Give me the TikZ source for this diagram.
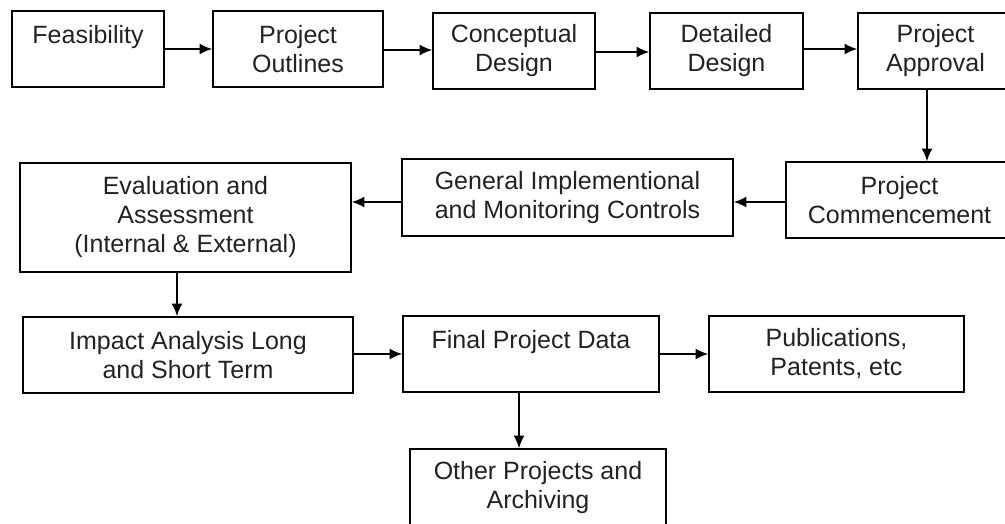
\documentclass[tikz,border=0pt]{standalone}
\usepackage{fontspec}
\setmainfont{Liberation Sans}
\usetikzlibrary{arrows.meta}
\definecolor{ink}{HTML}{222222}
\tikzset{
  stagebox/.style={draw=black, line width=1.8pt, rectangle, inner sep=0pt,
    align=center, text=ink, font=\fontsize{25}{29}\selectfont},
  flow/.style={line width=1.5pt, -{Latex[length=12.5pt,width=11pt]}}
}
\begin{document}
\begin{tikzpicture}[x=1pt,y=-1pt]
\clip (0,0) rectangle (1005,523);

% top row
\node[stagebox, minimum width=152pt, minimum height=76pt] (feas) at (88,49) {Feasibility\\\mbox{}};
\node[stagebox, minimum width=170pt, minimum height=76pt] (outl) at (298,49) {Project\\Outlines};
\node[stagebox, minimum width=162pt, minimum height=76pt] (conc) at (514,51) {Conceptual\\Design};
\node[stagebox, minimum width=153pt, minimum height=76pt] (detl) at (726.5,51) {Detailed\\Design};
\node[stagebox, minimum width=155pt, minimum height=76pt] (appr) at (935.5,51) {Project\\Approval};

% second row
\node[stagebox, minimum width=227pt, minimum height=76pt] (comm) at (899.5,200) {Project\\Commencement};
\node[stagebox, minimum width=331pt, minimum height=77pt] (genr) at (567.5,197.5) {General Implementional\\and Monitoring Controls};
\node[stagebox, minimum width=331pt, minimum height=109pt] (eval) at (185.5,217.5) {Evaluation and\\Assessment\\(Internal \& External)};

% third row
\node[stagebox, minimum width=330pt, minimum height=76pt] (impa) at (188,355) {Impact Analysis Long\\and Short Term};
\node[stagebox, minimum width=256pt, minimum height=76pt] (finl) at (531,354) {Final Project Data\\\mbox{}};
\node[stagebox, minimum width=255pt, minimum height=76pt] (publ) at (836.5,354) {Publications,\\Patents, etc};

% bottom
\node[stagebox, minimum width=256pt, minimum height=78pt] (othr) at (538,488) {Other Projects and\\Archiving};

% connectors
\draw[flow] (feas.east |- 0,49) -- (outl.west |- 0,49);
\draw[flow] (outl.east |- 0,50) -- (conc.west |- 0,50);
\draw[flow] (conc.east |- 0,52) -- (detl.west |- 0,52);
\draw[flow] (detl.east |- 0,49) -- (appr.west |- 0,49);
\draw[flow] (appr.south -| 927,0) -- (comm.north -| 927,0);
\draw[flow] (comm.west |- 0,202) -- (genr.east |- 0,202);
\draw[flow] (genr.west |- 0,202) -- (eval.east |- 0,202);
\draw[flow] (eval.south -| 177,0) -- (impa.north -| 177,0);
\draw[flow] (impa.east |- 0,354) -- (finl.west |- 0,354);
\draw[flow] (finl.east |- 0,354) -- (publ.west |- 0,354);
\draw[flow] (finl.south -| 519,0) -- (othr.north -| 519,0);
\end{tikzpicture}
\end{document}
